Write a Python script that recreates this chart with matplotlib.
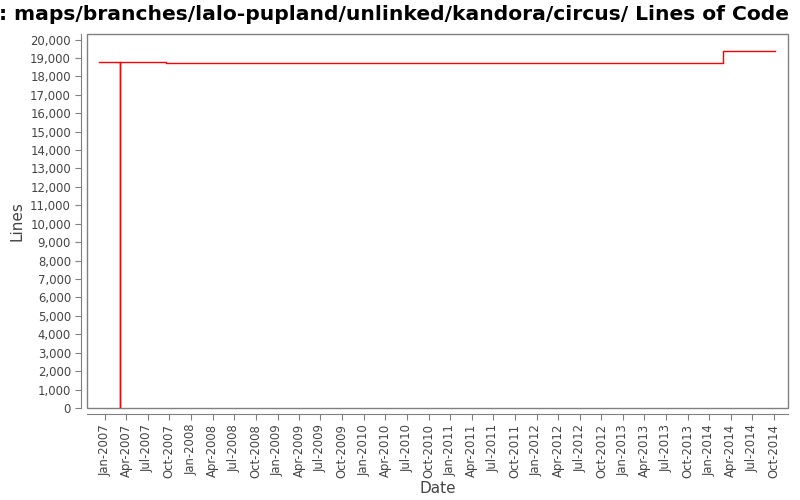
import matplotlib
matplotlib.use("Agg")
import matplotlib.pyplot as plt
import matplotlib.dates as mdates
from matplotlib.ticker import FuncFormatter, MultipleLocator
from matplotlib.patches import Rectangle
import pandas as pd

# data
dates = ["2006-12-08", "2007-03-07", "2007-03-07", "2007-09-16", "2014-02-26", "2014-10-04"]
lines = [18800, 0, 18800, 18700, 19400, 19400]

title = ": maps/branches/lalo-pupland/unlinked/kandora/circus/ Lines of Code"
dates = pd.to_datetime(dates)

grey = "#444444"
edge = "#808080"

fig = plt.figure(figsize=(8, 5), dpi=100)
ax = fig.add_axes([0.10875, 0.184, 0.87625, 0.748])

ax.step(dates, lines, where="post", color="red", linewidth=1.0)

ax.set_xlim(pd.Timestamp("2006-10-18"), pd.Timestamp("2014-11-29"))
ax.set_ylim(0, 20300)

ax.yaxis.set_major_locator(MultipleLocator(1000))
ax.yaxis.set_major_formatter(FuncFormatter(lambda v, p: f"{int(v):,}"))
ax.xaxis.set_major_locator(mdates.MonthLocator(bymonth=[1, 4, 7, 10]))
ax.xaxis.set_major_formatter(mdates.DateFormatter("%b-%Y"))

for s in ["top", "right"]:
    ax.spines[s].set_visible(False)
for s in ["left", "bottom"]:
    ax.spines[s].set_position(("outward", 4))
    ax.spines[s].set_color(edge)
ax.add_patch(Rectangle((0, 0), 1, 1, transform=ax.transAxes, fill=False,
                       edgecolor=edge, linewidth=1, clip_on=False, zorder=0))

ax.tick_params(axis="both", colors=edge, labelcolor=grey, labelsize=8.4, length=4)
ax.tick_params(axis="x", labelrotation=90)
ax.set_xlabel("Date", fontsize=11, color=grey, labelpad=2)
ax.set_ylabel("Lines", fontsize=11, color=grey)

fig.text(0.493, 0.972, title, ha="center", va="center", fontsize=14.6, fontweight="bold")

fig.savefig("out.png", dpi=100)
